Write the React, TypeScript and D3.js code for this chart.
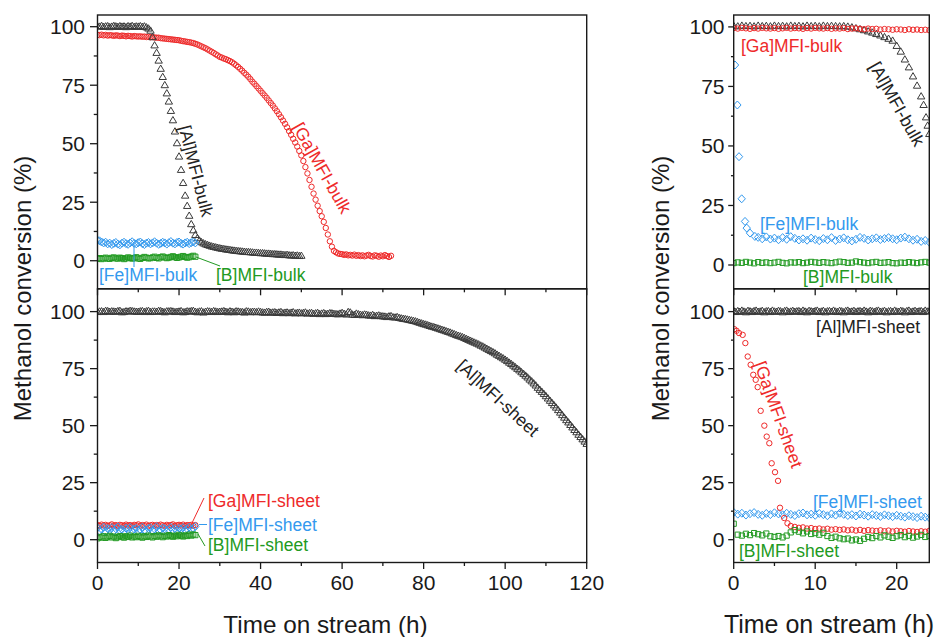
import React from "react";
import * as d3 from "d3";

const FONT = "'Liberation Sans', Arial, Helvetica, sans-serif";
const RED = "#ee2a2a";
const BLUE = "#3399ee";
const GREEN = "#229a22";
const DARK = "#3a3a3a";
const TEXT_DARK = "#222222";

// ---------- Left panels (0-120 h) ----------
// bulk samples, 0.5 h apart
const AL_BULK_L = [
  100.2,100.0,100.3,99.9,100.1,100.2,99.8,100.0,100.3,100.1,99.9,100.2,100.0,100.1,99.8,100.2,100.0,100.3,99.9,100.1,
  100.0,100.2,99.9,100.1,99.7,99.2,98.3,95.5,92.0,88.8,85.5,82.0,78.5,75.0,71.5,68.0,64.0,60.0,55.2,50.2,
  44.5,38.8,33.2,27.8,23.4,19.2,15.6,13.0,11.0,9.6,8.6,7.9,7.4,7.0,6.7,6.4,6.1,5.9,5.7,5.5,
  5.3,5.1,5.0,4.8,4.7,4.6,4.4,4.3,4.2,4.1,4.0,3.9,3.8,3.7,3.7,3.6,3.5,3.4,3.4,3.3,
  3.2,3.2,3.1,3.0,3.0,2.9,2.8,2.8,2.7,2.6,2.6,2.5,2.4,2.5,2.3,2.2,2.3,2.1,2.2,2.0,2.1,
];
const GA_BULK_L = [
  96.5,96.4,96.6,96.3,96.5,96.2,96.4,96.3,96.1,96.3,96.2,96.0,96.2,96.1,95.9,96.1,96.0,95.8,96.0,95.9,
  95.8,95.9,95.7,95.8,95.6,95.7,95.5,95.6,95.4,95.3,95.3,95.1,95.0,94.9,94.8,94.7,94.6,94.5,94.4,94.3,
  94.2,94.0,93.8,93.7,93.5,93.4,93.2,93.0,92.7,92.4,92.0,91.6,91.2,90.8,90.3,89.8,89.3,88.8,88.2,87.7,
  87.1,86.8,86.4,86.1,85.7,85.3,84.8,84.2,83.5,82.8,82.0,81.2,80.3,79.5,78.6,77.6,76.5,75.6,74.6,73.6,
  72.6,71.6,70.6,69.6,68.5,67.4,66.3,65.1,63.9,62.6,61.3,59.9,58.5,57.0,55.4,53.8,52.1,50.5,48.8,46.9,
  45.0,42.6,40.0,37.3,34.5,31.6,28.7,26.1,23.5,21.2,19.0,16.6,14.0,11.2,8.3,6.0,4.2,3.6,3.1,2.9,
  2.8,2.5,2.7,2.3,2.5,2.2,2.6,2.1,2.4,2.0,2.3,1.9,2.2,2.5,2.0,1.8,2.3,2.1,1.7,2.2,1.9,2.4,2.0,1.6,2.1,
];
const FE_BULK_L = [
  8.8,8.5,8.0,7.6,7.9,7.2,7.5,6.9,7.4,7.8,7.1,6.8,7.5,7.9,7.3,7.0,7.6,8.1,7.4,7.2,
  7.7,8.0,7.3,6.9,7.5,7.8,7.2,7.6,8.1,7.5,7.0,7.4,7.9,7.6,7.1,7.7,8.2,7.5,7.2,7.8,
  8.0,7.4,7.1,7.6,7.9,7.3,7.7,8.0,7.6,
];
const B_BULK_L = [
  0.8,1.1,0.7,1.0,1.3,0.9,0.8,1.2,1.4,1.0,0.9,1.3,1.1,0.7,1.0,1.4,1.2,0.9,1.1,1.5,
  1.0,0.8,1.2,1.6,1.3,1.0,1.1,1.4,1.7,1.2,1.0,1.5,1.8,1.4,1.1,1.3,1.6,1.9,1.5,1.2,
  1.4,1.7,2.0,1.6,1.3,1.5,1.8,2.1,1.7,
];
// Al sheet: on the hour (0..120) and on the half hour (0.5..119.5)
const AL_SHEET_L = [
  99.8,100.1,100.3,99.9,100.0,100.2,99.7,100.1,100.3,100.0,
  99.9,100.2,100.1,99.8,100.0,100.3,99.9,100.1,100.2,99.8,
  100.0,99.7,100.1,100.2,99.9,100.0,99.6,100.1,99.8,100.0,
  99.9,100.2,99.7,99.9,100.1,99.8,99.6,100.0,99.9,99.7,
  99.8,99.5,99.9,99.6,99.4,99.8,99.5,99.3,99.7,99.4,
  99.2,99.6,99.3,99.0,99.4,99.1,98.9,99.3,99.0,98.8,
  99.4,98.7,99.6,98.5,98.8,98.4,98.6,98.2,98.0,98.3,
  97.9,97.6,98.0,97.4,97.2,96.8,96.5,96.1,95.7,95.1,
  94.5,94.0,93.4,92.9,92.3,91.7,91.1,90.4,89.7,89.1,
  88.4,87.6,86.8,86.0,85.1,84.2,83.2,82.2,81.1,80.0,
  78.9,77.6,76.3,74.9,73.4,71.9,70.2,68.5,66.6,64.8,
  62.9,60.9,58.9,56.8,54.6,52.4,50.3,48.1,46.0,44.0,42.0,
];
const AL_SHEET_L_HALF = [
  100.0,99.8,100.2,100.1,99.9,100.3,99.8,100.0,100.2,99.9,
  100.1,99.8,100.3,100.0,99.9,100.2,99.7,100.1,100.0,99.9,
  100.2,99.8,100.0,100.3,99.7,100.1,99.9,100.0,100.2,99.8,
  100.0,99.9,100.1,99.7,100.0,99.8,100.1,99.7,99.9,100.0,
  99.6,99.8,99.5,99.7,99.6,99.3,99.6,99.5,99.2,99.5,
  99.4,99.1,99.4,99.2,98.9,99.3,99.0,99.2,98.9,99.1,
  99.0,99.8,98.7,99.1,98.6,98.7,98.3,98.5,98.1,98.0,
  97.8,97.9,97.5,97.6,97.0,96.7,96.3,95.9,95.4,94.8,
  94.3,93.7,93.2,92.6,92.0,91.4,90.8,90.1,89.4,88.8,
  88.0,87.2,86.4,85.6,84.7,83.7,82.7,81.7,80.6,79.5,
  78.3,77.0,75.6,74.2,72.7,71.1,69.4,67.6,65.7,63.9,
  61.9,59.9,57.9,55.7,53.5,51.4,49.2,47.1,45.0,43.0,
];
const GA_SHEET_L = [
  6.4,6.1,6.6,6.2,6.5,6.0,6.3,6.7,6.2,6.4,6.0,6.5,6.3,6.1,6.6,6.2,6.4,6.0,6.5,6.3,
  6.7,6.1,6.4,6.2,6.6,6.0,6.3,6.5,6.1,6.4,6.2,6.6,6.3,6.0,6.5,6.2,6.4,6.7,6.1,6.3,
  6.5,6.2,6.6,6.0,6.4,6.3,6.5,6.1,6.4,
];
const FE_SHEET_L = [
  5.2,3.8,4.6,5.5,3.5,4.9,4.1,5.3,3.7,4.8,5.6,4.0,4.5,3.6,5.1,4.3,5.4,3.9,4.7,5.0,
  3.8,4.4,5.5,4.1,3.6,4.9,5.2,4.0,4.6,5.7,3.9,4.3,5.1,4.8,3.7,4.5,5.4,4.2,4.9,3.8,
  5.0,4.6,5.3,4.1,4.7,5.5,4.4,5.0,5.8,
];
const B_SHEET_L = [
  0.6,1.2,0.9,1.5,0.8,1.3,1.7,1.0,1.4,0.7,1.1,1.6,1.3,0.9,1.5,1.2,1.8,1.0,1.4,1.1,
  1.7,1.3,0.9,1.5,1.2,1.8,1.4,1.0,1.6,1.3,1.9,1.5,1.1,1.7,1.4,2.0,1.6,1.3,1.8,1.5,
  2.1,1.7,1.4,1.9,1.6,2.2,1.8,2.3,2.0,
];

// ---------- Right panels (0-24 h) ----------
const GA_BULK_R = [
  99.5,99.3,99.6,99.4,99.2,99.5,99.3,99.6,99.4,99.3,99.5,99.2,99.4,99.6,99.3,99.5,99.4,99.2,99.5,99.3,
  99.6,99.4,99.3,99.5,99.2,99.4,99.3,99.5,99.1,99.3,99.4,99.2,99.0,99.3,99.1,99.2,98.9,99.1,99.0,98.8,
  99.0,98.9,98.7,99.0,98.8,98.9,98.7,98.8,98.6,
];
const AL_BULK_R_FLAT = [
  100.4,100.2,100.5,100.3,100.4,100.2,100.5,100.3,100.4,100.2,
  100.5,100.3,100.4,100.2,100.5,100.3,100.4,100.2,100.5,100.3,
  100.4,100.2,100.5,100.3,100.4,100.3,100.2,100.3,100.1,
];
const AL_BULK_R_DECAY: [number, number][] = [
  [14.5,99.8],[15,99.4],[15.5,99.0],[16,98.6],[16.5,98.1],[17,97.6],[17.5,97.0],[18,96.4],[18.5,95.7],
  [19,95.0],[19.5,94.2],[20,92.0],[20.5,89.6],[21,86.3],[21.5,83.0],[22,79.2],[22.5,75.3],[23,70.8],
  [23.3,67.2],[23.6,62.0],[23.8,58.5],[24,55.0],
];
const FE_BULK_R_EARLY: [number, number][] = [
  [0.16,84.0],[0.45,67.2],[0.65,45.5],[0.98,27.8],[1.39,18.3],[1.6,15.5],[2.0,13.4],[2.6,12.0],
];
const FE_BULK_R_LATE = [
  11.6,11.0,11.8,10.9,11.3,10.6,11.5,10.8,11.9,11.2,10.5,11.0,10.4,11.3,10.7,10.2,11.1,10.6,11.5,10.3,
  10.9,11.4,10.6,10.1,10.8,11.6,11.2,10.5,11.0,11.4,10.7,11.1,11.5,11.0,10.6,11.3,11.7,11.0,10.4,10.8,
  9.9,10.3,9.6,
];
const B_BULK_R = [
  0.8,1.1,0.9,1.3,1.0,0.7,1.2,0.9,1.1,0.8,1.0,1.3,0.9,0.7,1.1,1.0,1.2,0.8,1.0,1.3,
  1.1,0.9,1.2,1.0,0.8,1.1,1.4,1.2,0.9,1.0,1.5,1.2,1.0,0.8,1.1,1.3,0.9,1.0,1.2,0.8,
  0.7,1.0,0.9,1.2,1.0,0.8,1.1,1.3,1.0,
];
const AL_SHEET_R = [
  100.3,99.8,100.2,99.9,100.4,100.0,99.7,100.3,100.1,99.8,
  100.2,100.4,99.9,100.0,100.3,99.7,100.1,100.2,99.8,100.4,
  100.0,99.9,100.3,100.1,99.7,100.2,100.4,99.8,100.0,100.3,
  99.9,100.1,100.2,99.8,100.4,100.0,99.7,100.3,100.1,99.9,
  100.2,100.4,99.8,100.0,100.3,99.7,100.1,100.2,99.9,100.4,
  100.0,99.8,100.3,100.1,99.7,100.2,100.4,99.9,100.0,100.3,
  99.8,100.1,100.2,99.9,100.4,100.0,99.7,100.3,100.1,99.8,
  100.2,100.4,99.9,100.0,100.3,99.7,100.1,100.2,99.8,100.4,
  100.0,99.9,100.3,100.1,99.7,100.2,100.4,99.8,100.0,100.3,
  99.9,100.1,100.2,99.8,100.4,100.0,100.2,
];
const GA_SHEET_R_EARLY: [number, number][] = [
  [0.07,92.3],[0.35,91.6],[0.65,90.6],[1.1,89.8],[1.43,86.2],[1.72,80.3],[2.08,76.7],[2.4,72.3],
  [2.7,70.1],[2.94,66.9],[3.31,56.5],[3.76,50.0],[4.05,45.2],[4.37,42.3],[4.66,33.5],[5.07,29.6],
  [5.44,25.8],[5.68,14.0],[6.2,9.5],[6.6,7.2],[7.0,6.0],
];
const GA_SHEET_R_LATE = [
  5.6,5.2,5.4,4.9,5.1,4.7,4.9,4.5,4.8,4.4,4.6,4.3,4.5,4.1,4.4,4.0,4.3,3.9,4.2,4.0,
  3.8,4.1,3.7,4.0,3.6,3.9,3.7,3.5,3.8,3.6,3.4,3.7,3.5,3.9,
];
const FE_SHEET_R = [
  12.0,11.2,11.6,10.8,11.4,11.9,11.1,10.7,11.5,11.0,11.8,11.3,10.9,11.6,11.1,10.6,11.4,11.7,10.9,11.2,
  10.7,11.5,11.0,10.5,11.3,10.8,11.6,11.1,10.6,11.0,10.4,11.2,10.8,10.3,11.0,10.6,10.2,10.9,10.5,10.1,
  10.7,10.3,9.9,10.5,10.1,9.7,10.3,9.9,9.6,
];
const B_SHEET_R = [
  7.0,2.2,1.8,2.6,2.0,2.9,2.4,1.9,2.7,1.5,1.2,1.6,1.0,1.8,3.2,4.2,3.5,2.8,3.6,2.5,
  2.9,2.2,3.0,1.6,0.8,1.3,0.6,0.2,0.5,-0.3,0.1,-0.5,0.4,1.2,0.7,1.6,1.0,1.9,1.3,0.8,
  1.5,2.0,1.1,1.7,0.9,1.4,2.1,1.2,1.6,
];

// axes
const Y_TICKS = [0, 25, 50, 75, 100];
const Y_MINOR = [12.5, 37.5, 62.5, 87.5];
const X_TICKS_L = [0, 20, 40, 60, 80, 100, 120];
const X_MINOR_L = [10, 30, 50, 70, 90, 110];
const X_TICKS_R = [0, 10, 20];
const X_MINOR_R = [5, 15];

const grid = (start: number, step: number, vals: number[]): [number, number][] =>
  vals.map((v, i) => [start + i * step, v]);

type Shape = "tri" | "circ" | "dia" | "sq";
const SHAPES: Record<Shape, string> = {
  tri: "M0,-3.8L3.7,2.5L-3.7,2.5Z",
  circ: d3.symbol(d3.symbolCircle, 23)() as string,
  dia: "M0,-4L3.7,0L0,4L-3.7,0Z",
  sq: "M-2.6,-2.6H2.6V2.6H-2.6Z",
};
type Series = { pts: [number, number][]; shape: Shape; color: string };

const LX0 = 97.5, LX1 = 586.7, RX0 = 733.7, RX1 = 929.3;
const TY0 = 15, MY = 288.8, BY1 = 562.5;

function Panel(props: {
  id: string; x0: number; x1: number; y0: number; y1: number;
  xDom: [number, number]; yDom: [number, number];
  xMajor: number[]; xMinor: number[]; xLabels: boolean;
  series: Series[]; tickLen: number; labelRight: number;
}) {
  const { id, x0, x1, y0, y1, xDom, yDom, xMajor, xMinor, xLabels, series, tickLen, labelRight } = props;
  const x = d3.scaleLinear().domain(xDom).range([x0, x1]);
  const y = d3.scaleLinear().domain(yDom).range([y1, y0]);
  return (
    <g>
      <defs>
        <clipPath id={id}>
          <rect x={x0} y={y0} width={x1 - x0} height={y1 - y0} />
        </clipPath>
      </defs>
      <g clipPath={`url(#${id})`}>
        {series.map((s, si) => (
          <g key={si} fill="none" stroke={s.color} strokeWidth={1}>
            {s.pts.map(([t, v], i) => (
              <path key={i} d={SHAPES[s.shape]} transform={`translate(${x(t).toFixed(2)},${y(v).toFixed(2)})`} />
            ))}
          </g>
        ))}
      </g>
      <g stroke="#1a1a1a" strokeWidth={1.3}>
        {Y_TICKS.map((v) => (
          <line key={"ym" + v} x1={x0 - tickLen} x2={x0} y1={y(v)} y2={y(v)} />
        ))}
        {Y_MINOR.map((v) => (
          <line key={"yn" + v} x1={x0 - tickLen / 2} x2={x0} y1={y(v)} y2={y(v)} />
        ))}
        {xMajor.map((t) => (
          <line key={"xm" + t} x1={x(t)} x2={x(t)} y1={y1} y2={y1 + 6.5} />
        ))}
        {xMinor.map((t) => (
          <line key={"xn" + t} x1={x(t)} x2={x(t)} y1={y1} y2={y1 + 3.5} />
        ))}
      </g>
      <g fontFamily={FONT} fontSize={21} fill="#1a1a1a">
        {Y_TICKS.map((v) => (
          <text key={"yl" + v} x={labelRight} y={y(v) + 7.5} textAnchor="end">{v}</text>
        ))}
        {xLabels &&
          xMajor.map((t) => (
            <text key={"xl" + t} x={x(t)} y={y1 + 27.5} textAnchor="middle">{t}</text>
          ))}
      </g>
      <rect x={x0} y={y0} width={x1 - x0} height={y1 - y0} fill="none" stroke="#1a1a1a" strokeWidth={1.4} />
    </g>
  );
}

function Label(p: { x: number; y: number; color: string; text: string; rot?: number; size?: number }) {
  if (p.rot !== undefined) {
    return (
      <text transform={`translate(${p.x},${p.y}) rotate(${p.rot})`} textAnchor="middle" dominantBaseline="central"
        fontFamily={FONT} fontSize={p.size ?? 17.5} fill={p.color}>{p.text}</text>
    );
  }
  return (
    <text x={p.x} y={p.y} fontFamily={FONT} fontSize={p.size ?? 17.5} fill={p.color}>{p.text}</text>
  );
}

export default function App() {
  const topLeft: Series[] = [
    { pts: grid(0, 0.5, GA_BULK_L), shape: "circ", color: RED },
    { pts: grid(0, 0.5, AL_BULK_L), shape: "tri", color: DARK },
    { pts: grid(0, 0.5, FE_BULK_L), shape: "dia", color: BLUE },
    { pts: grid(0, 0.5, B_BULK_L), shape: "sq", color: GREEN },
  ];
  const botLeft: Series[] = [
    { pts: [...grid(0, 1, AL_SHEET_L), ...grid(0.5, 1, AL_SHEET_L_HALF)], shape: "tri", color: DARK },
    { pts: grid(0, 0.5, GA_SHEET_L), shape: "circ", color: RED },
    { pts: grid(0, 0.5, FE_SHEET_L), shape: "dia", color: BLUE },
    { pts: grid(0, 0.5, B_SHEET_L), shape: "sq", color: GREEN },
  ];
  const topRight: Series[] = [
    { pts: [...grid(0, 0.5, AL_BULK_R_FLAT), ...AL_BULK_R_DECAY], shape: "tri", color: DARK },
    { pts: grid(0, 0.5, GA_BULK_R), shape: "circ", color: RED },
    { pts: [...FE_BULK_R_EARLY, ...grid(3, 0.5, FE_BULK_R_LATE)], shape: "dia", color: BLUE },
    { pts: grid(0, 0.5, B_BULK_R), shape: "sq", color: GREEN },
  ];
  const botRight: Series[] = [
    { pts: grid(0, 0.25, AL_SHEET_R), shape: "tri", color: DARK },
    { pts: grid(0, 0.5, FE_SHEET_R), shape: "dia", color: BLUE },
    { pts: [...GA_SHEET_R_EARLY, ...grid(7.5, 0.5, GA_SHEET_R_LATE)], shape: "circ", color: RED },
    { pts: grid(0, 0.5, B_SHEET_R), shape: "sq", color: GREEN },
  ];

  return (
    <svg width={938} height={637} style={{ position: "absolute", left: 0, top: 0, background: "#fff" }}>
      <rect width={938} height={637} fill="#fff" />
      <Panel id="c1" x0={LX0} x1={LX1} y0={TY0} y1={MY} xDom={[0, 120]} yDom={[-12, 105]}
        xMajor={X_TICKS_L} xMinor={X_MINOR_L} xLabels={false} series={topLeft} tickLen={7.5} labelRight={85} />
      <Panel id="c2" x0={LX0} x1={LX1} y0={MY} y1={BY1} xDom={[0, 120]} yDom={[-10, 110]}
        xMajor={X_TICKS_L} xMinor={X_MINOR_L} xLabels={true} series={botLeft} tickLen={7.5} labelRight={85} />
      <Panel id="c3" x0={RX0} x1={RX1} y0={TY0} y1={MY} xDom={[0, 24]} yDom={[-10, 105]}
        xMajor={X_TICKS_R} xMinor={X_MINOR_R} xLabels={false} series={topRight} tickLen={5.5} labelRight={724.5} />
      <Panel id="c4" x0={RX0} x1={RX1} y0={MY} y1={BY1} xDom={[0, 24]} yDom={[-10, 110]}
        xMajor={X_TICKS_R} xMinor={X_MINOR_R} xLabels={true} series={botRight} tickLen={5.5} labelRight={724.5} />

      {/* leader lines */}
      <g strokeWidth={1} fill="none">
        <line x1={134} y1={244} x2={134} y2={267} stroke={BLUE} />
        <line x1={196} y1={257} x2={220} y2={266} stroke={GREEN} />
        <line x1={192} y1={523} x2={204} y2={498} stroke={RED} />
        <line x1={199} y1={524.5} x2={207} y2={524.5} stroke={BLUE} />
        <line x1={198} y1={534} x2={205} y2={546} stroke={GREEN} />
      </g>

      {/* series labels */}
      <Label x={196} y={171} rot={75.5} color={TEXT_DARK} text="[Al]MFI-bulk" />
      <Label x={322} y={168} rot={60.5} color={RED} text="[Ga]MFI-bulk" />
      <Label x={99} y={281} color={BLUE} text="[Fe]MFI-bulk" />
      <Label x={216} y={281} color={GREEN} text="[B]MFI-bulk" />
      <Label x={208} y={507} color={RED} text="[Ga]MFI-sheet" />
      <Label x={208} y={531} color={BLUE} text="[Fe]MFI-sheet" />
      <Label x={208} y={551} color={GREEN} text="[B]MFI-sheet" />
      <Label x={498} y={398} rot={42.6} color={TEXT_DARK} text="[Al]MFI-sheet" />

      <Label x={741} y={52} color={RED} text="[Ga]MFI-bulk" />
      <Label x={897} y={104} rot={60.5} color={TEXT_DARK} text="[Al]MFI-bulk" />
      <Label x={760} y={230} color={BLUE} text="[Fe]MFI-bulk" />
      <Label x={803} y={283} color={GREEN} text="[B]MFI-bulk" />
      <Label x={816} y={333} color={TEXT_DARK} text="[Al]MFI-sheet" />
      <Label x={778.5} y={414.5} rot={70.1} color={RED} text="[Ga]MFI-sheet" />
      <Label x={813} y={508} color={BLUE} text="[Fe]MFI-sheet" />
      <Label x={739} y={557} color={GREEN} text="[B]MFI-sheet" />

      {/* axis titles */}
      <g fontFamily={FONT} fill="#1a1a1a">
        <text transform="translate(31,288.5) rotate(-90)" textAnchor="middle" fontSize={24}>Methanol conversion (%)</text>
        <text transform="translate(669,288.5) rotate(-90)" textAnchor="middle" fontSize={24}>Methanol conversion (%)</text>
        <text x={325.5} y={633} textAnchor="middle" fontSize={24.3}>Time on stream (h)</text>
        <text x={829} y={633} textAnchor="middle" fontSize={25}>Time on stream (h)</text>
      </g>
    </svg>
  );
}
